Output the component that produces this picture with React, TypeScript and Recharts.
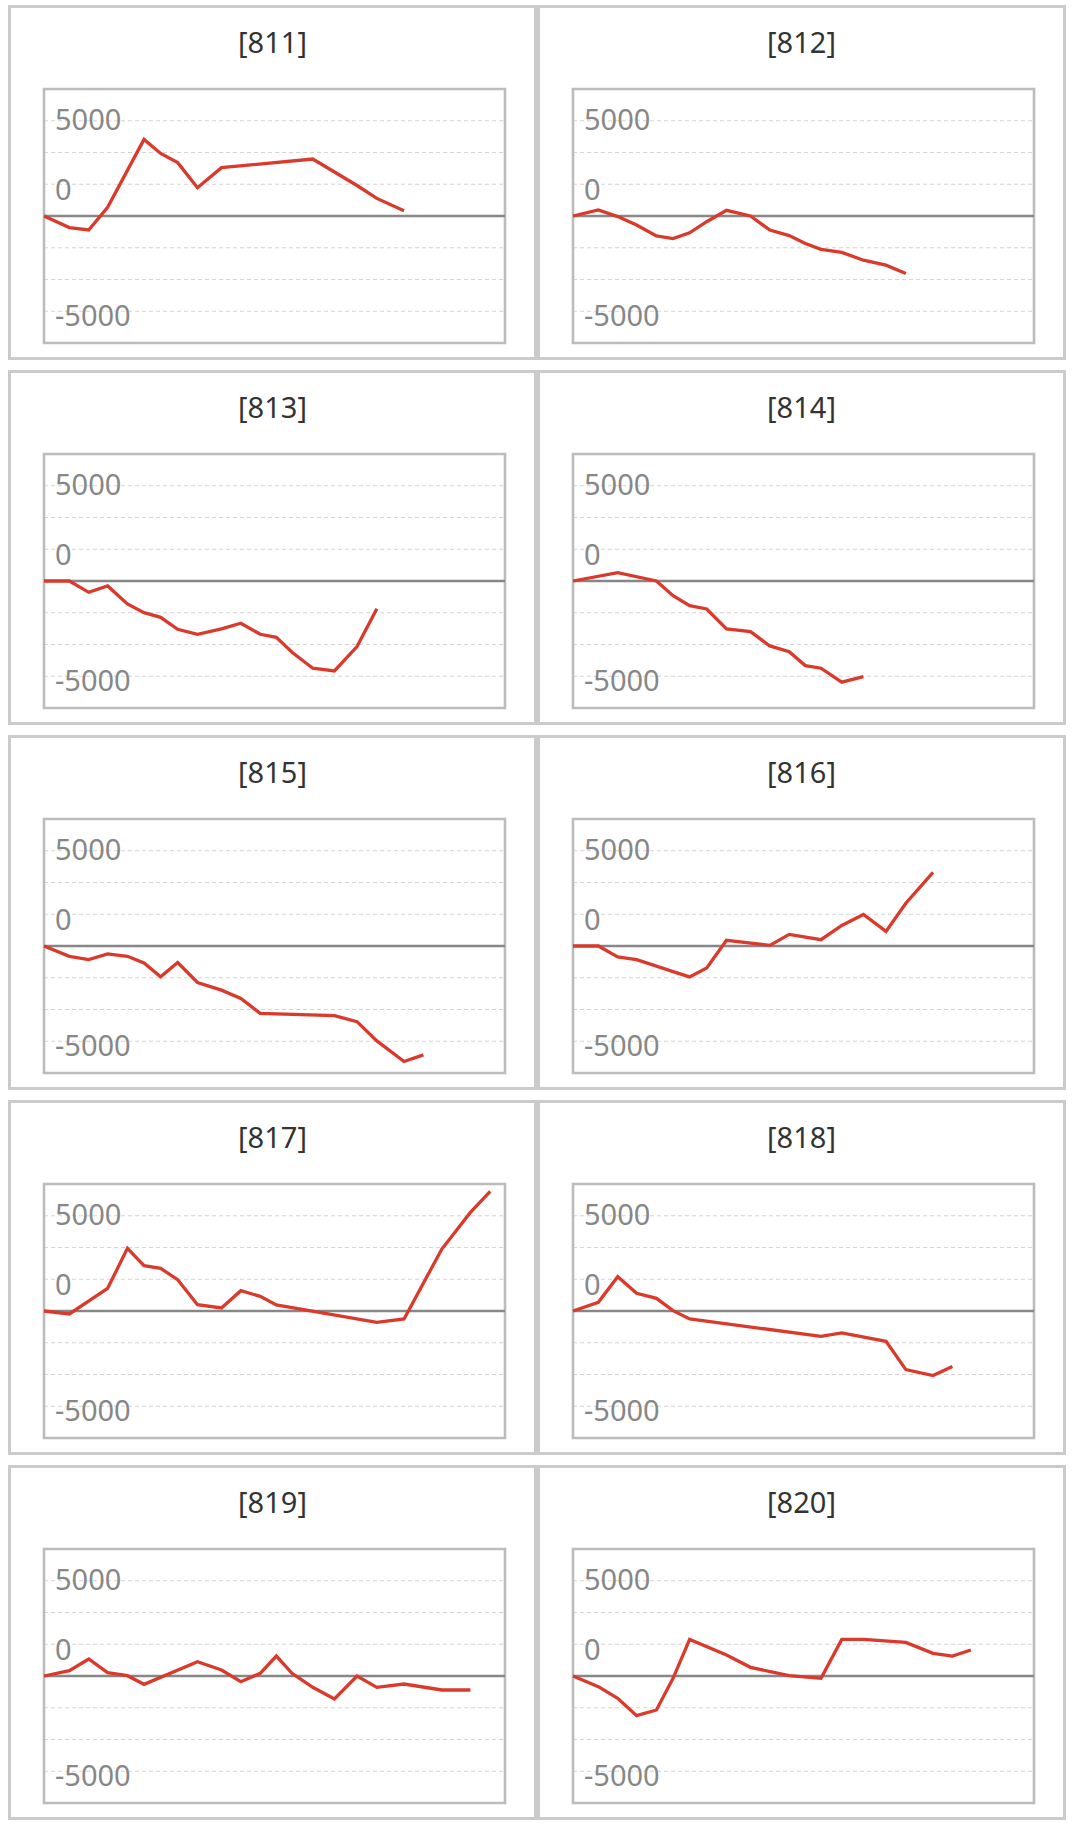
import { LineChart, Line, XAxis, YAxis, CartesianGrid, ReferenceLine, ReferenceArea } from 'recharts';

// shared x positions (share of the time span, 0..100) of the sample dates
const dayPos = [0, 5.5, 9.7, 13.8, 18.1, 21.7, 25.3, 29.0, 33.3, 38.5, 42.7, 46.9, 50.4, 53.8, 58.3, 63.0, 67.9, 72.2, 78.1, 82.3, 86.3, 92.5, 96.8];

// cumulative values per panel, one slot per date (null = no sample)
const s811 = [0, -610, -735, 455, null, 4020, 3285, 2800, 1485, 2535, null, null, null, null, 2990, null, 1600, 925, 280, null, null, null, null];
const s812 = [0, 320, -30, -470, -1050, -1190, -880, -300, 300, 0, -740, -1030, -1440, -1750, -1910, -2320, -2580, -3020, null, null, null, null, null];
const s813 = [0, 0, -594, -262, -1206, -1661, -1905, -2535, -2797, -2517, -2220, -2797, -2954, -3741, -4580, -4720, -3444, -1451, null, null, null, null, null];
const s814 = [0, null, 440, null, 0, -770, -1295, -1470, -2520, -2660, -3410, -3710, -4440, -4580, -5310, -5020, null, null, null, null, null, null, null];
const s815 = [0, -540, -714, -418, -540, -888, -1620, -871, -1916, -2317, -2752, -3536, null, null, null, -3658, -3972, -4982, -6062, -5714, null, null, null];
const s816 = [0, 0, -575, -714, -1057, -1346, -1620, -1150, 296, null, 35, 610, null, 331, 1080, 1655, 766, 2247, 3867, null, null, null, null];
const s817 = [0, -157, null, 1189, 3287, 2377, 2238, 1643, 332, 157, 1066, 769, 315, null, null, null, null, -594, -420, null, 3252, 5175, 6276];
const s818 = [0, 455, 1800, 926, 664, 17, -420, null, null, null, null, null, null, -1328, -1154, null, -1591, -3076, -3391, -2919, null, null, null];
const s819 = [0, 280, 891, 175, 17, -437, null, null, 752, 315, -297, 140, 1049, 140, -594, -1206, 0, -594, -420, null, -734, -734, null];
const s820 = [0, -559, -1171, -2080, -1783, -122, 1923, null, 1101, 455, null, 17, null, -122, 1923, 1923, null, 1766, 1189, 1049, 1364, null, null];

const panelIds = ['811', '812', '813', '814', '815', '816', '817', '818', '819', '820'];
const panelSeries = [s811, s812, s813, s814, s815, s816, s817, s818, s819, s820];

const yTicks = [-6667, -5000, -3333, -1667, 0, 1667, 3333, 5000, 6667];

const FONT = '"Noto Sans", "DejaVu Sans", sans-serif';

// vertical nudge of the three printed labels relative to their grid line
const labelShift: Record<string, number> = { '5000': -1, '0': -26, '-5000': 5 };

function YTick(props: any) {
  const { x, y, payload } = props;
  const shift = labelShift[String(payload.value)];
  if (shift === undefined) return <g />;
  return (
    <text x={x + 11} y={y + shift + 10} fontSize={29} fill="#878787" fontFamily={FONT}>
      {payload.value}
    </text>
  );
}

function Panel({ id, values }: { id: string; values: (number | null)[] }) {
  const data = dayPos
    .map((x, i) => ({ x, v: values[i] }))
    .filter(d => d.v !== null && d.v !== undefined);

  return (
    <div style={{ position: 'relative', boxSizing: 'border-box', width: 529, height: 355, border: '3px solid #cbcbcb', background: '#fff' }}>
      <div style={{ position: 'absolute', top: 16, left: 0, right: 0, textAlign: 'center', fontFamily: FONT, fontSize: 29, lineHeight: '36px', color: '#333' }}>
        [{id}]
      </div>
      <div style={{ position: 'absolute', left: 31, top: 79 }}>
        <LineChart width={465} height={258} data={data} margin={{ top: 2, right: 2, bottom: 2, left: 2 }}>
          <CartesianGrid vertical={false} stroke="#d4d4d4" strokeDasharray="4 3" />
          <XAxis type="number" dataKey="x" domain={[0, 100]} hide />
          <YAxis
            type="number"
            domain={[-6667, 6667]}
            ticks={yTicks}
            interval={0}
            allowDataOverflow
            mirror
            axisLine={false}
            tickLine={false}
            tickSize={0}
            tickMargin={0}
            tick={YTick}
          />
          <ReferenceLine y={0} stroke="#878787" strokeWidth={2.6} />
          <ReferenceArea x1={0} x2={100} y1={-6667} y2={6667} fill="none" fillOpacity={0} stroke="#bcbcbc" strokeWidth={2.6} />
          <Line type="linear" dataKey="v" stroke="#d93a2b" strokeWidth={3.3} dot={false} isAnimationActive={false} />
        </LineChart>
      </div>
    </div>
  );
}

export default function App() {
  return (
    <div style={{ position: 'absolute', top: 5, left: 8, display: 'grid', gridTemplateColumns: '529px 529px', rowGap: 10, width: 1058 }}>
      {panelIds.map((id, i) => (
        <Panel key={id} id={id} values={panelSeries[i]} />
      ))}
    </div>
  );
}
